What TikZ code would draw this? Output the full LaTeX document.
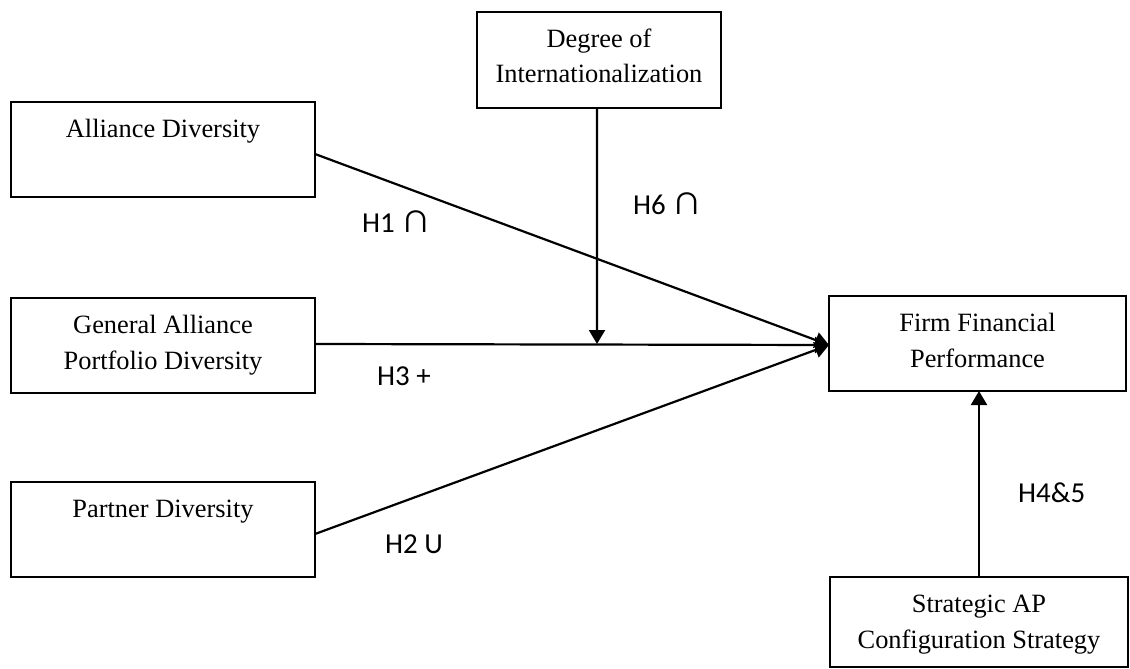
\documentclass[tikz,border=0pt]{standalone}
\usepackage{fontspec}
\usepackage{graphicx}
\setmainfont{Liberation Serif}
\newfontfamily\lblfont{Carlito}
\usetikzlibrary{arrows.meta}

\newcommand{\capsym}{\scalebox{1.45}{∩}}

\tikzset{
  box/.style={draw, line width=2bp, inner sep=0pt, outer sep=0pt},
  boxtext/.style={anchor=base, align=center, inner sep=0pt,
    font=\fontsize{26.5}{35.5}\selectfont},
  hyp/.style={anchor=base west, inner sep=0pt,
    font=\lblfont\fontsize{29}{35}\selectfont},
  link/.style={line width=2.2bp, -{Triangle[length=14bp,width=16bp]}}
}

\begin{document}
\begin{tikzpicture}[x=1bp,y=-1bp]
\useasboundingbox (0,0) rectangle (1130,669);

% variable boxes
\node[box, minimum width=304bp, minimum height=95bp] (ad)   at (163,149.5) {};
\node[box, minimum width=304bp, minimum height=95bp] (gapd) at (163,345.5) {};
\node[box, minimum width=304bp, minimum height=95bp] (pd)   at (163,529.5) {};
\node[box, minimum width=244bp, minimum height=96bp] (doi)  at (599,60) {};
\node[box, minimum width=297bp, minimum height=95bp] (ffp)  at (977.5,343.5) {};
\node[box, minimum width=298bp, minimum height=90bp] (sap)  at (979,622) {};

% box captions near the top edge (base anchor = last line's baseline)
\node[boxtext] (adt)   at ([yshift=-35.5bp]ad.north)   {Alliance Diversity};
\node[boxtext] (gapdt) at ([yshift=-71bp]gapd.north)   {General Alliance\\Portfolio Diversity};
\node[boxtext] (pdt)   at ([yshift=-35.5bp]pd.north)   {Partner Diversity};
\node[boxtext] (doit)  at ([yshift=-71bp]doi.north)    {Degree of\\Internationalization};
\node[boxtext] (ffpt)  at ([yshift=-71bp]ffp.north)    {Firm Financial\\Performance};
\node[boxtext] (sapt)  at ([yshift=-71bp]sap.north)    {Strategic AP\\Configuration Strategy};

% paths into performance
\coordinate (mod) at (597,344);
\draw[link] ([yshift=-4.5bp]ad.east) -- ([yshift=-1.5bp]ffp.west);
\draw[link] ([yshift=1.5bp]gapd.east) -- ([yshift=-1.5bp]ffp.west);
\draw[link] ([yshift=-4.5bp]pd.east) -- ([yshift=-1.5bp]ffp.west);
\draw[link] ([xshift=-2bp]doi.south) -- (mod);
\draw[link] (sap.north) -- (sap.north |- ffp.south);

% hypothesis labels
\node[hyp] (h1) at (362,232) {H1 \capsym};
\node[hyp] (h3) at (377,385) {H3 +};
\node[hyp] (h6) at (633,215) {H6 \capsym};
\node[hyp] (h2) at (385,553) {H2 U};
\node[hyp] (h45) at (1018,502) {H4\&5};
\end{tikzpicture}
\end{document}
